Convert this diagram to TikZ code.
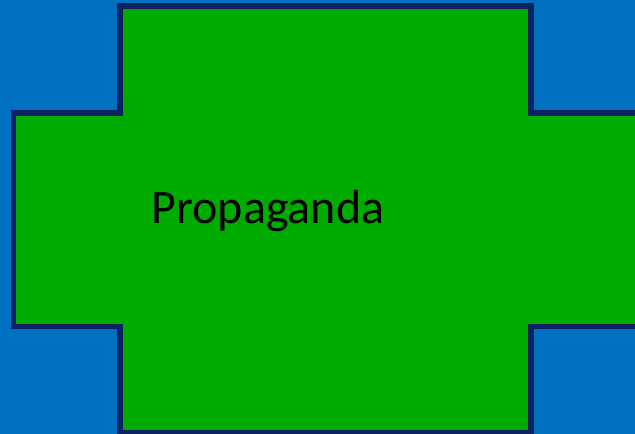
\documentclass[tikz,border=0pt]{standalone}
\usepackage{fontspec}
\setmainfont{Carlito}
\definecolor{bgblue}{HTML}{0070C0}
\definecolor{crossgreen}{HTML}{00AB00}
\definecolor{edgenavy}{HTML}{0E2160}
\begin{document}
\begin{tikzpicture}[x=0.75pt,y=-0.75pt,
  crossshape/.style={fill=crossgreen,draw=edgenavy,line width=4.2pt,line join=miter},
  label/.style={text=black,font=\fontsize{36pt}{42pt}\selectfont,inner sep=0pt,anchor=base}]
\useasboundingbox (0,0) rectangle (635,434);
\fill[bgblue] (0,0) rectangle (635,434);
\draw[crossshape] (120,6) -- (531,6) -- (531,113) -- (638,113) -- (638,326.5)
  -- (531,326.5) -- (531,432.5) -- (120,432.5) -- (120,326.5) -- (13.5,326.5)
  -- (13.5,113) -- (120,113) -- cycle;
\node[label] (title) at (268,223.5) {Propaganda};
\end{tikzpicture}
\end{document}
